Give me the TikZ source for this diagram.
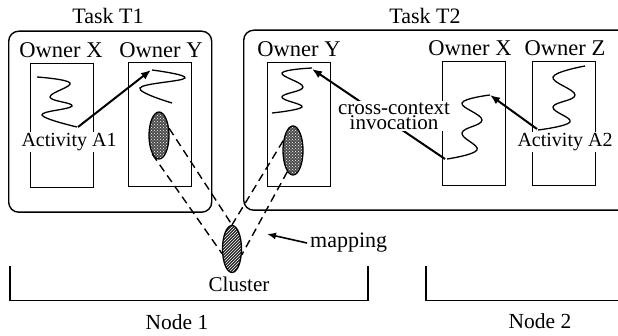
\documentclass[tikz,border=0pt]{standalone}
\usepackage{fontspec}
\setmainfont{Liberation Serif}
\usetikzlibrary{shapes.geometric,patterns,arrows.meta}
\newcommand{\fs}[1]{\fontsize{#1}{#1}\selectfont}
\tikzset{
 x=1pt,y=-1pt,
 every node/.style={font=\fs{21},inner sep=0pt},
 taskbox/.style={draw,line width=1.4pt,rounded corners=10pt,anchor=north west},
 ownerbox/.style={draw,line width=1.3pt,anchor=north west,minimum width=63pt,minimum height=124pt},
 squig/.style={line width=1.3pt,smooth,tension=0.7},
 bigarrow/.style={line width=2pt,-{Latex[length=10pt,width=8pt]}},
 mapline/.style={line width=1.4pt,dash pattern=on 8pt off 5pt},
 label/.style={fill=white,inner xsep=1pt,inner ysep=1pt},
 blob/.style={draw,ellipse,line width=1.3pt,minimum width=20pt,pattern color=white,pattern=crosshatch dots},
}
\begin{document}
\begin{tikzpicture}
\useasboundingbox (0,0) rectangle (618,336);
\node[taskbox,minimum width=203pt,minimum height=181pt] (t1) at (8,30.5) {};
\node[taskbox,minimum width=385pt,minimum height=180pt] (t2) at (243,29.5) {};
\node[ownerbox] (t1x) at (30,63) {};
\node[ownerbox] (t1y) at (128,62) {};
\node[ownerbox] (t2y) at (267,62) {};
\node[ownerbox] (t2x) at (442,61) {};
\node[ownerbox] (t2z) at (532,61) {};
% activities
\draw[squig] plot coordinates {(37,77)(70,83)(50,97)(72,106)(42,115)(77,127)};
\draw[squig] plot coordinates {(152,70)(185,78)(140,88)(172,103)};
\draw[squig] plot coordinates {(312,68)(282,73)(303,87)(282,97)(302,107)(272,113)};
\draw[squig] plot coordinates {(490,95)(462,103)(482,120)(462,133)(477,150)(447,159)};
\draw[squig] plot coordinates {(585,66)(553,77)(575,95)(553,107)(570,122)(538,130)};
\coordinate (a1s) at (78,127);
\coordinate (a1e) at (151,70);
\coordinate (cs) at (445,159);
\coordinate (ce) at (312,69);
\coordinate (a2s) at (537,129);
\coordinate (a2e) at (490,95);
\draw[bigarrow] (a1s) -- (a1e);
\draw[bigarrow] (cs) -- (ce);
\draw[bigarrow] (a2s) -- (a2e);
% clusters
\fill[black!70] (159,135) ellipse (10 and 23);
\fill[black!70] (293,150) ellipse (10 and 24.5);
\node[blob,minimum height=47pt] (e1) at (159,135.5) {};
\node[blob,minimum height=49pt] (e2) at (293,150.5) {};
\fill[black!85] (232,249) ellipse (9.5 and 23);
\node[draw,ellipse,line width=1.3pt,minimum width=19pt,minimum height=47pt,pattern color=white,pattern=north east lines] (c) at (232,249) {};
\draw[mapline] (e1.35) -- (c.north);
\draw[mapline] (e1.250) -- (c.205);
\draw[mapline] (e2.135) -- (c.north);
\draw[mapline] (e2.255) -- (c.-30);
% texts
\node[font=\fs{22}] (lt1) at (108,16) {Task T1};
\node[font=\fs{22}] (lt2) at (425,16) {Task T2};
\node[font=\fs{22.5}] (lx1) at (61,50) {Owner X};
\node[font=\fs{22.5}] (ly1) at (161,50) {Owner Y};
\node[font=\fs{22.5}] (ly2) at (299,49) {Owner Y};
\node[font=\fs{22.5}] (lx2) at (470,48) {Owner X};
\node[font=\fs{22.5}] (lz2) at (565,48) {Owner Z};
\node[label,font=\fs{20}] (a1) at (69,142) {Activity A1};
\node[label,font=\fs{20}] (a2) at (565,142) {Activity A2};
\node[label,align=center,font=\fontsize{21}{15}\selectfont] (cc) at (394,116) {cross-context\\invocation};
\node[anchor=west,font=\fs{22}] (map) at (310,243) {mapping};
\coordinate (mapa) at (267,234);
\draw[line width=1.6pt,-{Latex[length=9pt,width=7pt]}] (map.west) ++(-3,0) -- (mapa);
\node (cl) at (239,284) {Cluster};
% physical nodes
\coordinate (n1a) at (10,266);
\coordinate (n1b) at (10,300.5);
\coordinate (n1c) at (368,300.5);
\coordinate (n1d) at (368,266);
\coordinate (n2a) at (426,266);
\coordinate (n2b) at (426,300.5);
\coordinate (n2c) at (618,300.5);
\draw[line width=1.3pt] (n1a) -- (n1b) -- (n1c) -- (n1d);
\draw[line width=1.3pt] (n2a) -- (n2b) -- (n2c);
\node[font=\fs{21.5}] (n1) at (177,322) {Node 1};
\node[font=\fs{21.5}] (n2) at (540,321) {Node 2};
\end{tikzpicture}
\end{document}
